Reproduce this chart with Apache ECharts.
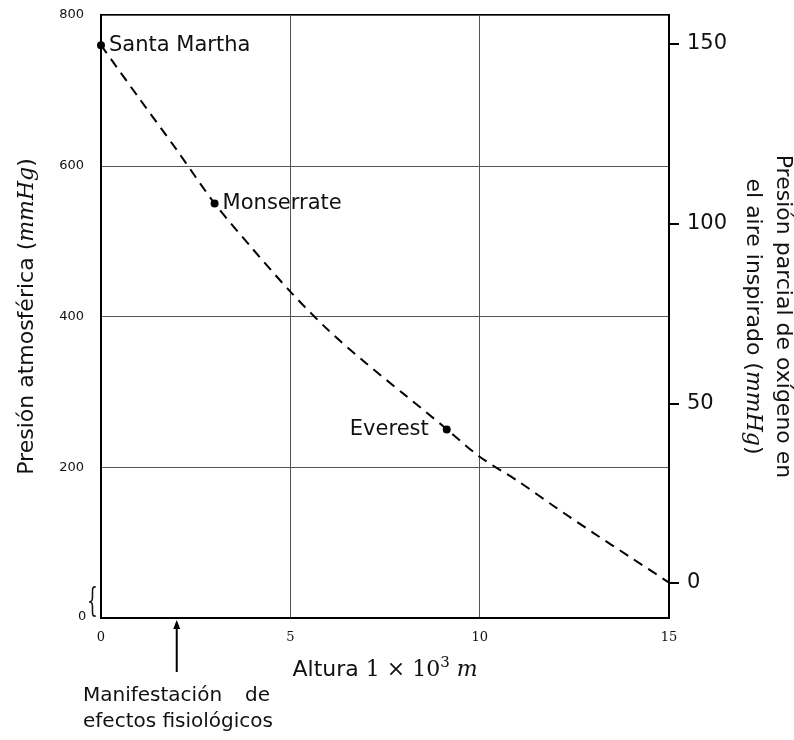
<!DOCTYPE html>
<html>
<head>
<meta charset="utf-8">
<script src="https://cdn.jsdelivr.net/npm/echarts@6/dist/echarts.min.js"></script>
<style>
    html, body { margin: 0; padding: 0; background: #fff; }
    #chart { width: 794px; height: 740px; }
</style>
</head>
<body>
<div id="chart"></div>
<script>
    // curva de presion (cada 1000 m)
    const altura = [0, 1, 2, 3, 4, 5, 6, 7, 8, 9, 10, 11, 12, 13, 14, 15];
    const presion = [760, 690, 621, 550, 490, 433, 382, 338, 297, 256, 214, 182, 147, 113, 80, 47];

    // lugares marcados
    const lugares = ['Santa Martha', 'Monserrate', 'Everest'];
    const lugarAltura = [0, 3, 9.13];
    const lugarPresion = [760, 550, 250];

    const xTicks = [0, 5, 10, 15];
    const o2Ticks = [0, 50, 100, 150];
    const o2Min = -9.74;
    const o2Max = 158.07;
    const alturaEfectos = 2;

    const sans = '"DejaVu Sans", sans-serif';
    const serif = '"DejaVu Serif", serif';

    let chart = echarts.init(document.getElementById('chart'));

    let curva = altura.map((x, i) => [x, presion[i]]);
    let puntos = lugares.map((n, i) => ({
        value: [lugarAltura[i], lugarPresion[i]],
        name: n,
        label: i === 2 ? {position: 'left', distance: 14} : {position: 'right', distance: 4}
    }));

    let richTitulo = {
        s: {fontFamily: sans, fontSize: 22, color: '#111'},
        m: {fontFamily: serif, fontSize: 22, color: '#111'},
        sup: {fontFamily: serif, fontSize: 15, color: '#111', verticalAlign: 'bottom', padding: [0, 0, 14, 0]},
        i: {fontFamily: serif, fontStyle: 'italic', fontSize: 22, color: '#111'}
    };

    let option = {
        animation: false,
        grid: {
            left: 101,
            right: 125,
            top: 15,
            bottom: 122,
            show: true,
            borderColor: '#000',
            borderWidth: 2,
            outerBoundsMode: 'none'
        },
        xAxis: {
            type: 'value',
            min: 0,
            max: 15,
            interval: 5,
            axisLine: {show: true, lineStyle: {color: '#000', width: 2}},
            axisTick: {show: false},
            splitLine: {show: true, lineStyle: {color: '#555', width: 1}},
            axisLabel: {
                margin: 13,
                fontFamily: serif,
                fontSize: 13,
                color: '#111',
                customValues: xTicks
            },
            name: '{s|Altura }{m|1 × 10}{sup|3}{m| }{i|m}',
            nameLocation: 'middle',
            nameGap: 38,
            nameTextStyle: {rich: richTitulo}
        },
        yAxis: [
            {
                type: 'value',
                min: 0,
                max: 800,
                interval: 200,
                axisLine: {show: true, lineStyle: {color: '#000', width: 2}},
                axisTick: {show: false},
                splitLine: {show: true, lineStyle: {color: '#555', width: 1}},
                axisLabel: {
                    margin: 17,
                    fontFamily: sans,
                    fontSize: 13,
                    color: '#111',
                    formatter: v => (v === 0 ? '' : v)
                },
                name: '{s|Presión atmosférica (}{i|mmHg}{s|)}',
                nameLocation: 'middle',
                nameGap: 63,
                nameTextStyle: {rich: richTitulo}
            },
            {
                type: 'value',
                position: 'right',
                min: o2Min,
                max: o2Max,
                axisLine: {show: true, lineStyle: {color: '#000', width: 2}},
                axisTick: {
                    show: true,
                    length: 10,
                    lineStyle: {color: '#000', width: 2},
                    customValues: o2Ticks
                },
                splitLine: {show: false},
                axisLabel: {
                    margin: 18,
                    fontFamily: sans,
                    fontSize: 21,
                    color: '#111',
                    customValues: o2Ticks
                },
                name: '{s|Presión parcial de oxígeno en}\n{s|el aire inspirado (}{i|mmHg}{s|)}',
                nameLocation: 'middle',
                nameRotate: -90,
                nameGap: 63,
                nameTextStyle: {
                    lineHeight: 30,
                    rich: {
                        s: {fontFamily: sans, fontSize: 22, color: '#111', lineHeight: 30},
                        i: {fontFamily: serif, fontStyle: 'italic', fontSize: 22, color: '#111', lineHeight: 30}
                    }
                }
            }
        ],
        series: [
            {
                name: 'presion',
                type: 'line',
                data: curva,
                smooth: 0.3,
                showSymbol: false,
                lineStyle: {color: '#000', width: 2, type: [10, 7]}
            },
            {
                name: 'lugares',
                type: 'scatter',
                data: puntos,
                symbolSize: 8,
                itemStyle: {color: '#000', opacity: 1},
                label: {
                    show: true,
                    formatter: '{b}',
                    fontFamily: sans,
                    fontSize: 21,
                    color: '#111'
                },
                z: 5
            }
        ]
    };
    chart.setOption(option);

    // flecha y texto de efectos fisiologicos, cero del eje izquierdo
    let p = chart.convertToPixel({gridIndex: 0}, [alturaEfectos, 0]);
    let notaStyle = {fontFamily: sans, fontSize: 20, fill: '#111'};
    chart.setOption({
        graphic: [
            {
                type: 'line',
                shape: {x1: p[0], y1: p[1] + 5, x2: p[0], y2: p[1] + 54},
                style: {stroke: '#000', lineWidth: 2}
            },
            {
                type: 'polygon',
                shape: {points: [[p[0], p[1] + 2], [p[0] - 3.5, p[1] + 11], [p[0] + 3.5, p[1] + 11]]},
                style: {fill: '#000'}
            },
            {type: 'text', left: 83, top: 686, style: Object.assign({text: 'Manifestación'}, notaStyle)},
            {type: 'text', right: 794 - 270, top: 686, style: Object.assign({text: 'de'}, notaStyle)},
            {type: 'text', left: 83, top: 712, style: Object.assign({text: 'efectos fisiológicos'}, notaStyle)},
            {
                type: 'text',
                left: 78,
                top: 610,
                style: {text: '0', fontFamily: sans, fontSize: 13, fill: '#111'}
            },
            {
                type: 'text',
                x: 87,
                y: 585,
                scaleX: 0.5,
                style: {text: '{', fontFamily: serif, fontSize: 34, fill: '#111'}
            }
        ]
    });

    window.addEventListener('resize', chart.resize);
</script>
</body>
</html>
